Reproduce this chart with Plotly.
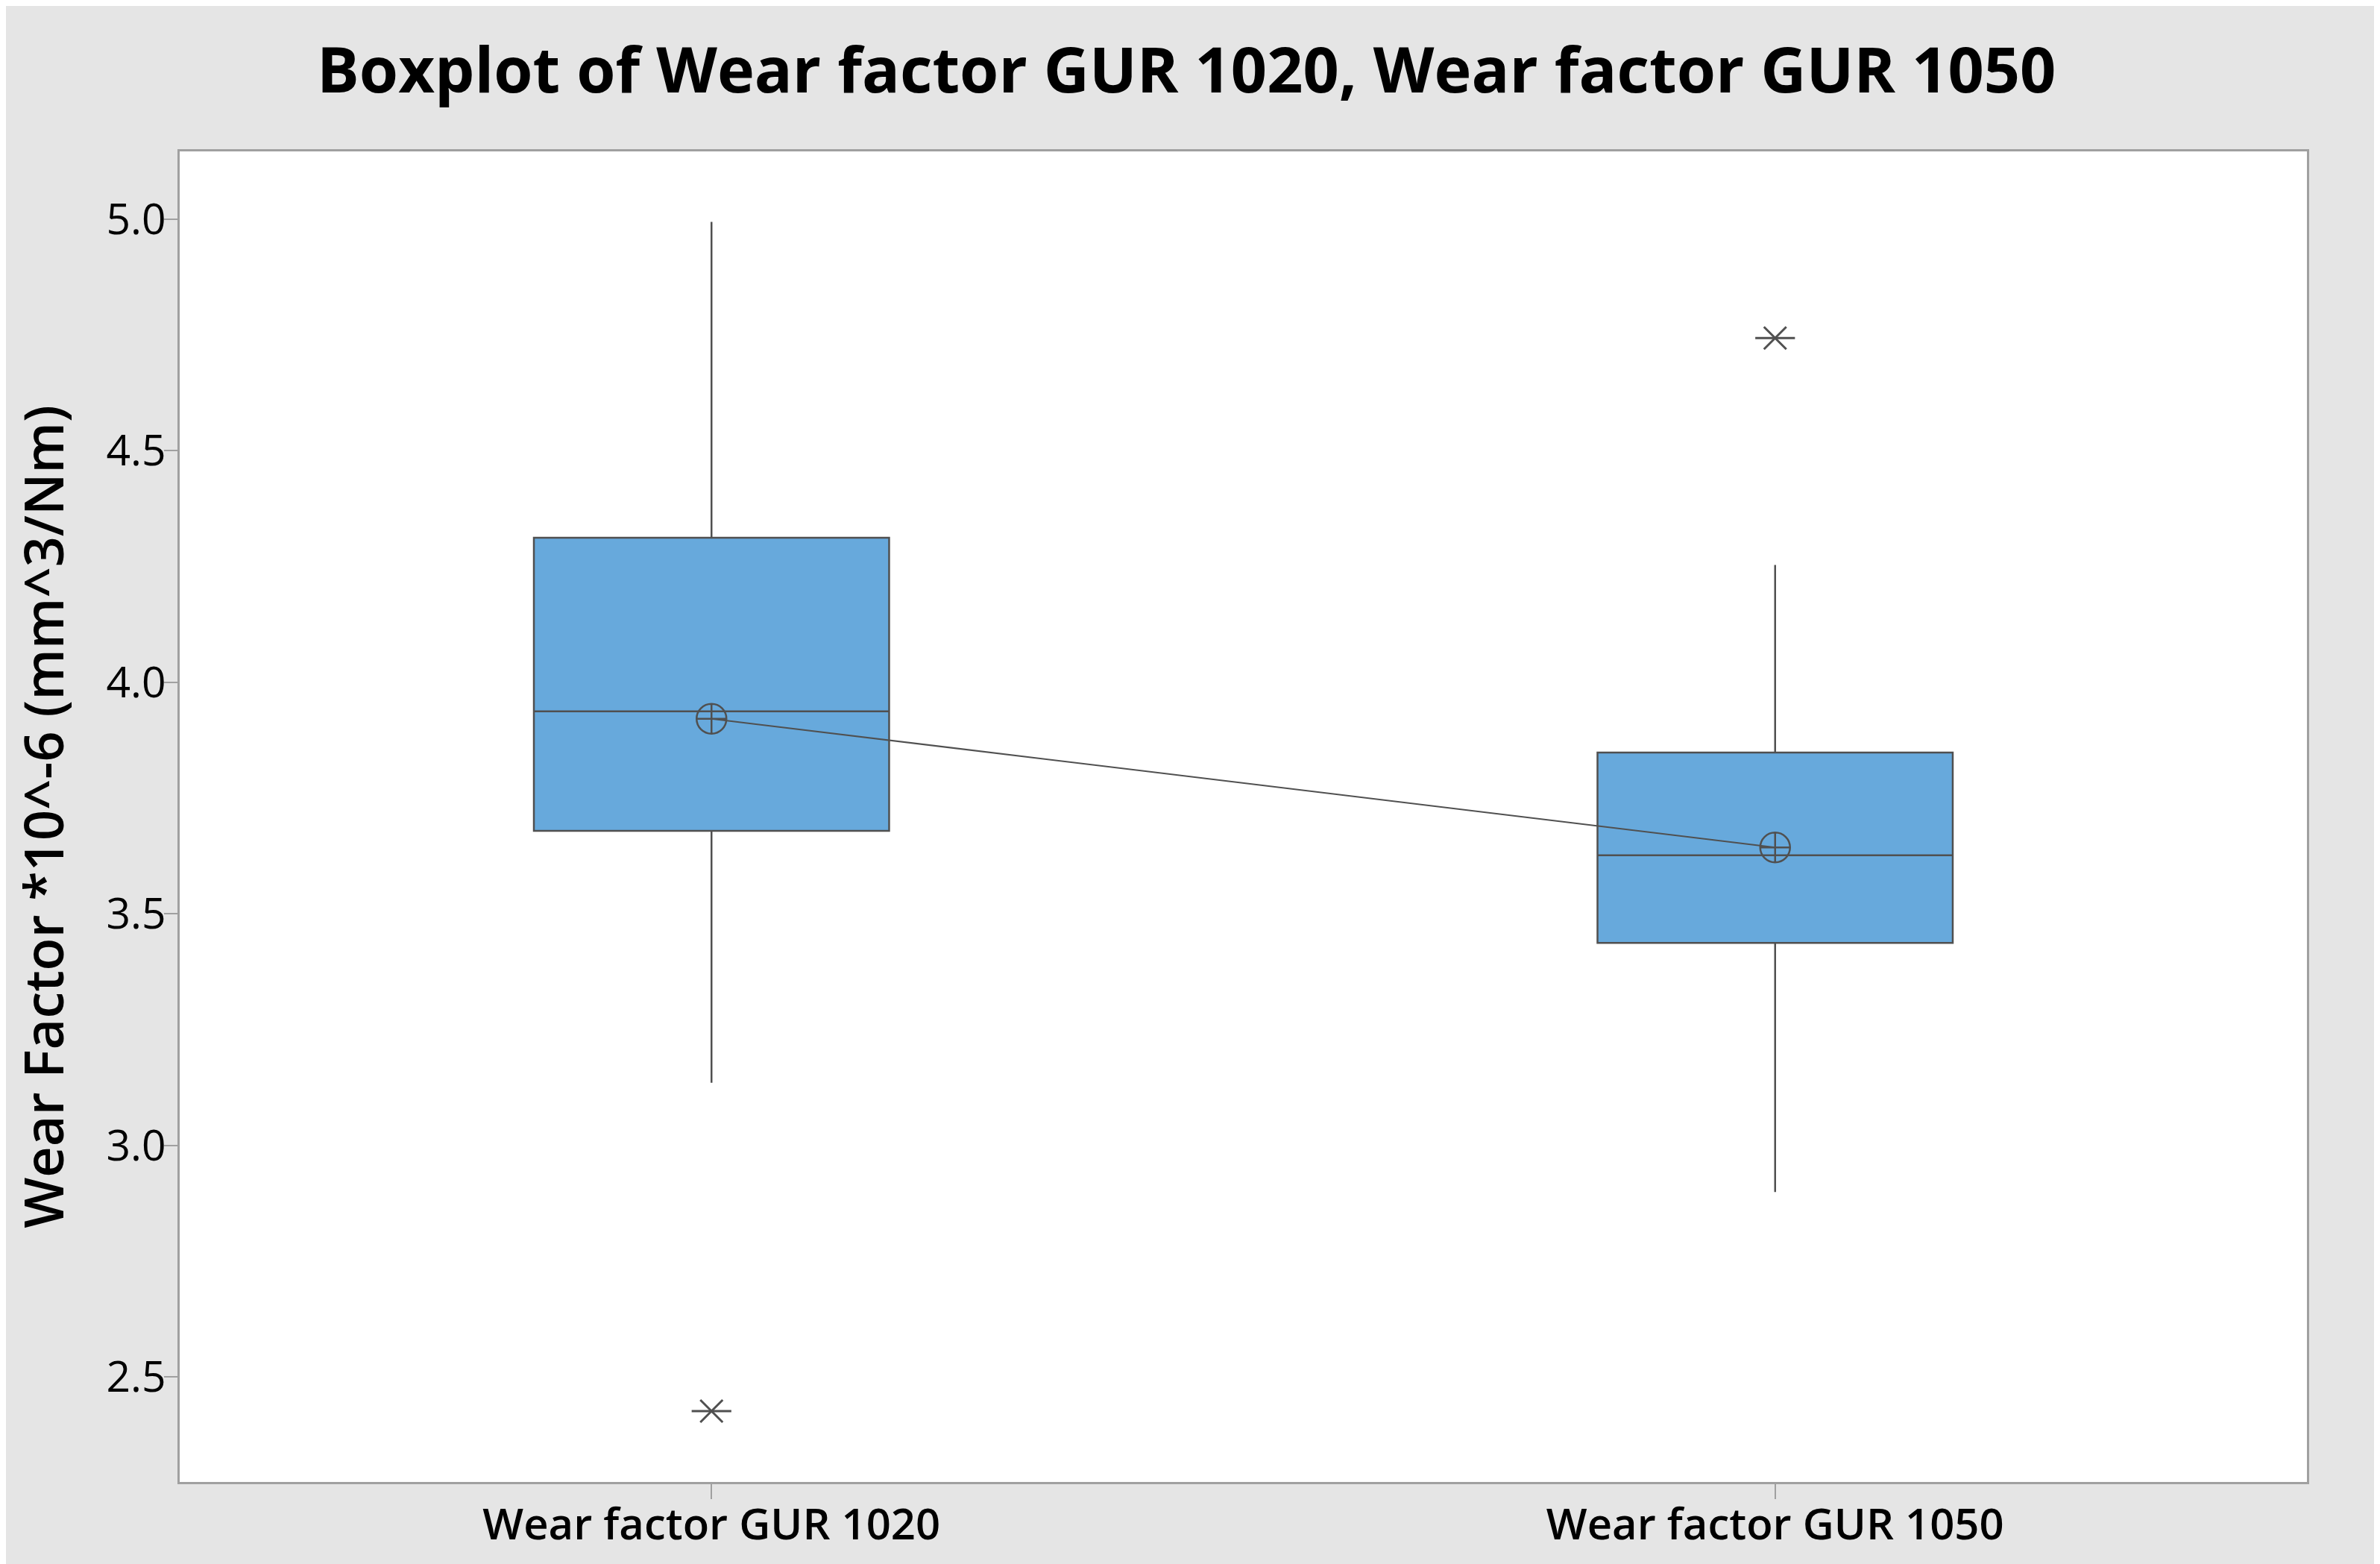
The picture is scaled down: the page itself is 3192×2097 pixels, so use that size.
import plotly.graph_objects as go

# Boxplot summary values
groups = ["Wear factor GUR 1020", "Wear factor GUR 1050"]
q1 = [3.679, 3.437]
median = [3.937, 3.626]
q3 = [4.312, 3.848]
lower_whisker = [3.135, 2.899]
upper_whisker = [4.994, 4.253]
means = [3.921, 3.643]
outlier_x = ["Wear factor GUR 1020", "Wear factor GUR 1050"]
outlier_y = [2.426, 4.743]

y_ticks = [2.5, 3.0, 3.5, 4.0, 4.5, 5.0]

font_name = "Open Sans"
dark = "#505050"

fig = go.Figure()

fig.add_trace(go.Box(x=groups, q1=q1, median=median, q3=q3,
                     lowerfence=lower_whisker, upperfence=upper_whisker,
                     boxpoints=False, whiskerwidth=0, width=0.334,
                     fillcolor="#67a9dc", line=dict(color=dark, width=2.5),
                     showlegend=False, hoverinfo="skip"))

# mean symbols joined by a line
fig.add_trace(go.Scatter(x=groups, y=means, mode="lines+markers",
                         line=dict(color=dark, width=2),
                         marker=dict(symbol="circle-cross-open", size=40,
                                     color=dark, line=dict(width=2.5)),
                         showlegend=False))

# outliers drawn as minitab style asterisks
fig.add_trace(go.Scatter(x=outlier_x, y=outlier_y, mode="markers",
                         marker=dict(symbol="line-ew-open", size=38, color=dark,
                                     line=dict(color=dark, width=3)),
                         showlegend=False))
fig.add_trace(go.Scatter(x=outlier_x, y=outlier_y, mode="markers",
                         marker=dict(symbol="x-thin-open", size=30, color=dark,
                                     line=dict(color=dark, width=3)),
                         showlegend=False))

fig.update_xaxes(type="category", range=[-0.5, 1.5],
                 showline=True, mirror=True, linecolor="#a0a0a0", linewidth=3,
                 ticks="outside", ticklen=20, tickwidth=2, tickcolor="#a0a0a0",
                 ticklabelstandoff=-16,
                 showgrid=False, zeroline=False,
                 tickfont=dict(family=font_name, size=58, color="black", weight=600))
fig.update_yaxes(range=[2.273, 5.146], tickvals=y_ticks,
                 ticktext=[f"{v:.1f}" for v in y_ticks],
                 showline=True, mirror=True, linecolor="#a0a0a0", linewidth=3,
                 ticks="outside", ticklen=18, tickwidth=2, tickcolor="#a0a0a0",
                 ticklabelstandoff=-14,
                 showgrid=False, zeroline=False,
                 tickfont=dict(family=font_name, size=57, color="black", weight=500),
                 title=dict(text="Wear Factor *10^-6 (mm^3/Nm)", standoff=72,
                            font=dict(family=font_name, size=72, color="black", weight=600)))

fig.update_layout(width=3192, height=2097,
                  margin=dict(l=233, r=106, t=195, b=118),
                  paper_bgcolor="#e5e5e5", plot_bgcolor="white",
                  title=dict(text="<b>Boxplot of Wear factor GUR 1020, Wear factor GUR 1050</b>",
                             x=0.496, xanchor="center", y=0.959, yanchor="middle",
                             font=dict(family=font_name, size=84.5, color="black")))

fig.write_html("out.html")
